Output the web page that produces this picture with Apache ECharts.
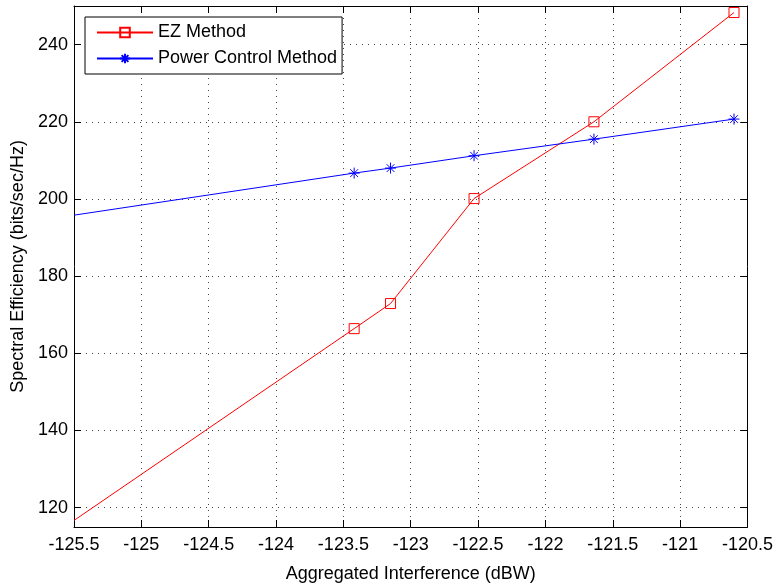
<!DOCTYPE html>
<html>
<head>
<meta charset="utf-8">
<script src="https://cdn.jsdelivr.net/npm/echarts@6/dist/echarts.min.js"></script>
<style>
  html, body { margin: 0; padding: 0; background: #fff; overflow: hidden; }
  #chart { width: 776px; height: 588px; }
</style>
</head>
<body>
<div id="chart"></div>
<script>
// Aggregated interference (dBW) at each operating point
const interference = [-125.5, -123.42, -123.15, -122.53, -121.64, -120.6];
// Spectral efficiency (bits/sec/Hz)
const ezMethod = [116.7, 166.4, 172.9, 200.1, 220.0, 248.3];
const powerControl = [195.8, 206.7, 208.0, 211.2, 215.5, 220.7];
// First entry is where the curve enters the axes: no marker drawn there
const markerShown = [false, true, true, true, true, true];

const xTicks = [-125.5, -125, -124.5, -124, -123.5, -123, -122.5, -122, -121.5, -121, -120.5];
const yTicks = [120, 140, 160, 180, 200, 220, 240];

const FONT = 'Liberation Sans, Arial, Helvetica, sans-serif';
const FONT_SIZE = 18;
const ASTERISK = 'path://M0,-10L0,10M-10,0L10,0M-7,-7L7,7M-7,7L7,-7';

function pairs(ys) {
  return interference.map((x, i) => ({
    value: [x, ys[i]],
    symbol: markerShown[i] ? undefined : 'none'
  }));
}

const gridLine = { show: true, lineStyle: { color: '#444', width: 1, type: [1, 5] } };
const axisLineStyle = { show: true, lineStyle: { color: '#000', width: 1 } };
const tickStyle = { show: true, inside: true, length: 7, lineStyle: { color: '#000' } };

const chart = echarts.init(document.getElementById('chart'), null, { renderer: 'canvas', width: 776, height: 588 });
chart.setOption({
  backgroundColor: '#fff',
  animation: false,
  textStyle: { fontFamily: FONT },
  grid: { left: 74, right: 21, top: 6, bottom: 53, containLabel: false },
  legend: {
    left: 85, top: 17,
    orient: 'vertical',
    backgroundColor: '#fff',
    borderColor: '#000',
    borderWidth: 1,
    borderRadius: 0,
    padding: [6, 5, 6, 11],
    itemWidth: 56,
    itemHeight: 12,
    itemGap: 7,
    textStyle: { fontFamily: FONT, fontSize: FONT_SIZE, color: '#000', lineHeight: 19 },
    data: ['EZ Method', 'Power Control Method']
  },
  xAxis: [{
    type: 'value',
    min: -125.5, max: -120.5, interval: 0.5,
    position: 'bottom',
    name: 'Aggregated Interference (dBW)',
    nameLocation: 'middle',
    nameGap: 38,
    nameTextStyle: { fontFamily: FONT, fontSize: FONT_SIZE, color: '#000' },
    axisLine: axisLineStyle,
    axisTick: tickStyle,
    axisLabel: {
      fontFamily: FONT, fontSize: FONT_SIZE, color: '#000', margin: 9,
      formatter: v => String(Math.round(v * 10) / 10)
    },
    splitLine: gridLine
  }, {
    type: 'value',
    min: -125.5, max: -120.5, interval: 0.5,
    position: 'top',
    axisLine: axisLineStyle,
    axisTick: tickStyle,
    axisLabel: { show: false },
    splitLine: { show: false }
  }],
  yAxis: [{
    type: 'value',
    min: 115, max: 250,
    position: 'left',
    name: 'Spectral Efficiency (bits/sec/Hz)',
    nameLocation: 'middle',
    nameGap: 46,
    nameTextStyle: { fontFamily: FONT, fontSize: FONT_SIZE, color: '#000' },
    axisLine: axisLineStyle,
    axisTick: Object.assign({ customValues: yTicks }, tickStyle),
    axisLabel: { fontFamily: FONT, fontSize: FONT_SIZE, color: '#000', margin: 6, customValues: yTicks },
    splitLine: gridLine
  }, {
    type: 'value',
    min: 115, max: 250,
    position: 'right',
    axisLine: axisLineStyle,
    axisTick: Object.assign({ customValues: yTicks }, tickStyle),
    axisLabel: { show: false, customValues: yTicks },
    splitLine: { show: false }
  }],
  series: [{
    name: 'EZ Method',
    type: 'line',
    data: pairs(ezMethod),
    symbol: 'rect',
    symbolSize: 10,
    showAllSymbol: true,
    color: '#ff0000',
    lineStyle: { color: '#ff0000', width: 1 },
    itemStyle: { color: 'rgba(0,0,0,0)', borderColor: '#ff0000', borderWidth: 1 },
    emphasis: { disabled: true },
    z: 3
  }, {
    name: 'Power Control Method',
    type: 'line',
    data: pairs(powerControl),
    symbol: ASTERISK,
    symbolSize: 11,
    showAllSymbol: true,
    color: '#0000ff',
    lineStyle: { color: '#0000ff', width: 1 },
    itemStyle: { color: 'rgba(0,0,0,0)', borderColor: '#0000ff', borderWidth: 1 },
    emphasis: { disabled: true },
    z: 3
  }]
});
</script>
</body>
</html>
